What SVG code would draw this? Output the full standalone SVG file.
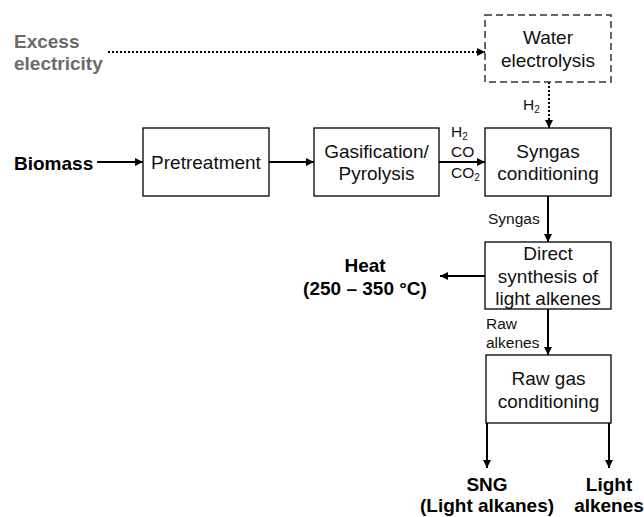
<svg xmlns="http://www.w3.org/2000/svg" width="644" height="517" viewBox="0 0 644 517">
<defs>
<marker id="ah" viewBox="0 0 8 8" refX="8" refY="4" markerWidth="8" markerHeight="8" markerUnits="userSpaceOnUse" orient="auto">
<path d="M0,0 L8,4 L0,8 z" fill="#000"/>
</marker>
<style>
.box{fill:#fff;stroke:#000;stroke-width:1.3}
.dbox{fill:#fff;stroke:#333;stroke-width:1.5;stroke-dasharray:7 4}
.t{font-family:"Liberation Sans",Arial,sans-serif;font-size:19px;fill:#111;text-anchor:middle}
.b{font-family:"Liberation Sans",Arial,sans-serif;font-size:19px;font-weight:bold;fill:#000}
.g{fill:#6b6b6b}
.s{font-family:"Liberation Sans",Arial,sans-serif;font-size:15.5px;fill:#111}
.sub{font-size:10px}
.ln{fill:none;stroke:#000;stroke-width:2;marker-end:url(#ah)}
.dot{fill:none;stroke:#000;stroke-width:2;stroke-dasharray:2 2;marker-end:url(#ah)}
</style>
</defs>
<rect width="644" height="517" fill="#fff"/>
<g id="connectors">
<path class="dot" d="M108,52 H485"/>
<path class="dot" d="M549,82 V128"/>
<path class="ln" d="M97,162 H143"/>
<path class="ln" d="M269,162 H314"/>
<path class="ln" d="M439,162 H485"/>
<path class="ln" d="M548,196 V242"/>
<path class="ln" d="M485,276 H440"/>
<path class="ln" d="M548,309 V355"/>
<path class="ln" d="M487,423 V468"/>
<path class="ln" d="M609,423 V468"/>
</g>
<g id="labels">
<text class="s" x="523" y="110">H<tspan class="sub" dy="3">2</tspan></text>
<text class="s" x="451" y="137">H<tspan class="sub" dy="3">2</tspan></text>
<text class="s" x="451" y="157">CO</text>
<text class="s" x="451" y="178">CO<tspan class="sub" dy="3">2</tspan></text>
<text class="s" x="488" y="224">Syngas</text>
<text class="s" x="486" y="329">Raw</text>
<text class="s" x="486" y="348">alkenes</text>
</g>
<g id="excess"><text class="b g" x="14" y="48">Excess</text><text class="b g" x="14" y="70">electricity</text></g>
<g id="biomass"><text class="b" x="14" y="170">Biomass</text></g>
<g id="water"><rect class="dbox" x="485" y="15" width="126" height="67"/><text class="t" x="548" y="44">Water</text><text class="t" x="548" y="67">electrolysis</text></g>
<g id="pretreatment"><rect class="box" x="143" y="128" width="126" height="68"/><text class="t" x="206" y="169">Pretreatment</text></g>
<g id="gasification"><rect class="box" x="314" y="128" width="125" height="68"/><text class="t" x="376.500" y="158">Gasification/</text><text class="t" x="376.500" y="180">Pyrolysis</text></g>
<g id="syngas"><rect class="box" x="485" y="128" width="126" height="68"/><text class="t" x="548" y="158">Syngas</text><text class="t" x="548" y="180">conditioning</text></g>
<g id="direct"><rect class="box" x="485" y="242" width="126" height="67"/><text class="t" x="548" y="260">Direct</text><text class="t" x="548" y="283">synthesis of</text><text class="t" x="548" y="305">light alkenes</text></g>
<g id="heat"><text class="b" x="365" y="272" text-anchor="middle">Heat</text><text class="b" x="365" y="295" text-anchor="middle">(250 – 350 °C)</text></g>
<g id="rawgas"><rect class="box" x="486" y="355" width="125" height="68"/><text class="t" x="548.500" y="385">Raw gas</text><text class="t" x="548.500" y="408">conditioning</text></g>
<g id="sng"><text class="b" x="487" y="491" text-anchor="middle">SNG</text><text class="b" x="487" y="512" text-anchor="middle">(Light alkanes)</text></g>
<g id="alkenes"><text class="b" x="609" y="491" text-anchor="middle">Light</text><text class="b" x="609" y="512" text-anchor="middle">alkenes</text></g>
</svg>
